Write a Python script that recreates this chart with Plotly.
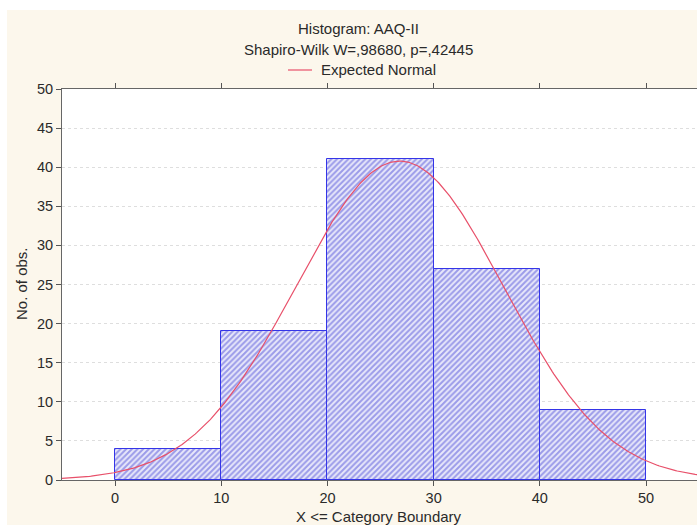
import numpy as np
import plotly.graph_objects as go

# Histogram bins (upper boundaries) and observed counts
bin_lower = [0, 10, 20, 30, 40]
bin_upper = [10, 20, 30, 40, 50]
counts = [4, 19, 41, 27, 9]

x_ticks = [0, 10, 20, 30, 40, 50]
y_ticks = [0, 5, 10, 15, 20, 25, 30, 35, 40, 45, 50]

title_text = "Histogram: AAQ-II"
subtitle_text = "Shapiro-Wilk W=,98680, p=,42445"
legend_text = "Expected Normal"
x_title = "X <= Category Boundary"
y_title = "No. of obs."

# Expected normal curve fitted to the binned data
mids = np.array([(a + b) / 2 for a, b in zip(bin_lower, bin_upper)])
n = np.array(counts, dtype=float)
N = n.sum()
mean = (mids * n).sum() / N
sd = np.sqrt((n * (mids - mean) ** 2).sum() / (N - 1))
width = bin_upper[0] - bin_lower[0]
xs = np.linspace(-5, 56, 400)
ys = N * width / (sd * np.sqrt(2 * np.pi)) * np.exp(-0.5 * ((xs - mean) / sd) ** 2)

W, H = 697, 527
ml, mr, mt, mb = 62, 0, 89, 47
pw, ph = W - ml - mr, H - mt - mb


def px_x(p):
    return (p - ml) / pw


def px_y(p):
    return (H - mb - p) / ph


fig = go.Figure()
fig.add_trace(go.Bar(
    x=mids, y=counts, width=width,
    marker=dict(
        color="#E6E6FA",
        line=dict(color="#3535E8", width=1),
        pattern=dict(shape="/", size=4, solidity=0.5,
                     fgcolor="#4E4ED8", bgcolor="#E8E8FA"),
    ),
    showlegend=False, hoverinfo="skip",
))
fig.add_trace(go.Scatter(
    x=xs, y=ys, mode="lines",
    line=dict(color="#E8506A", width=1.2),
    showlegend=False, hoverinfo="skip",
))

font = "Liberation Sans, Arial, sans-serif"
txt = "#2a2a2a"
fig.update_layout(
    width=W, height=H,
    margin=dict(l=ml, r=mr, t=mt, b=mb, pad=0),
    paper_bgcolor="white", plot_bgcolor="white",
    bargap=0,
    font=dict(family=font, size=15, color=txt),
    xaxis=dict(
        range=[-5, 54.8], tickvals=x_ticks, ticks="outside", ticklen=5,
        tickcolor="#555555", showgrid=False, zeroline=False, automargin=False,
        showline=True, linecolor="#666666", linewidth=1, mirror="ticks",
        tickfont=dict(size=14.5, color=txt),
    ),
    yaxis=dict(
        range=[0, 50], tickvals=y_ticks, ticks="outside", ticklen=5,
        tickcolor="#555555", showgrid=True, gridcolor="#DEDEDE",
        griddash="dot", gridwidth=1, zeroline=False, automargin=False,
        showline=True, linecolor="#666666", linewidth=1, mirror="ticks",
        tickfont=dict(size=14.5, color=txt),
    ),
    shapes=[
        # cream page behind the chart
        dict(type="rect", xref="paper", yref="paper", layer="below",
             x0=px_x(7), x1=px_x(W + 5), y0=px_y(525), y1=px_y(10),
             fillcolor="#FCF7EC", line=dict(width=0)),
        # white plotting area
        dict(type="rect", xref="paper", yref="paper", layer="below",
             x0=0, x1=1, y0=0, y1=1,
             fillcolor="white", line=dict(width=0)),
        # legend line sample
        dict(type="line", xref="paper", yref="paper",
             x0=px_x(288), x1=px_x(312), y0=px_y(70), y1=px_y(70),
             line=dict(color="#E8506A", width=1.2)),
    ],
    annotations=[
        dict(text=title_text, xref="paper", yref="paper", x=px_x(358), y=px_y(28),
             showarrow=False, xanchor="center", yanchor="middle",
             font=dict(size=15, color=txt)),
        dict(text=subtitle_text, xref="paper", yref="paper", x=px_x(358), y=px_y(49),
             showarrow=False, xanchor="center", yanchor="middle",
             font=dict(size=15, color=txt)),
        dict(text=legend_text, xref="paper", yref="paper", x=px_x(319), y=px_y(70),
             showarrow=False, xanchor="left", yanchor="middle",
             font=dict(size=15, color=txt)),
        dict(text=y_title, xref="paper", yref="paper", x=px_x(21), y=px_y(284),
             showarrow=False, xanchor="center", yanchor="middle", textangle=-90,
             font=dict(size=15, color=txt)),
        dict(text=x_title, xref="paper", yref="paper", x=px_x(379), y=px_y(516),
             showarrow=False, xanchor="center", yanchor="middle",
             font=dict(size=15, color=txt)),
    ],
)

fig.write_html("out.html")
